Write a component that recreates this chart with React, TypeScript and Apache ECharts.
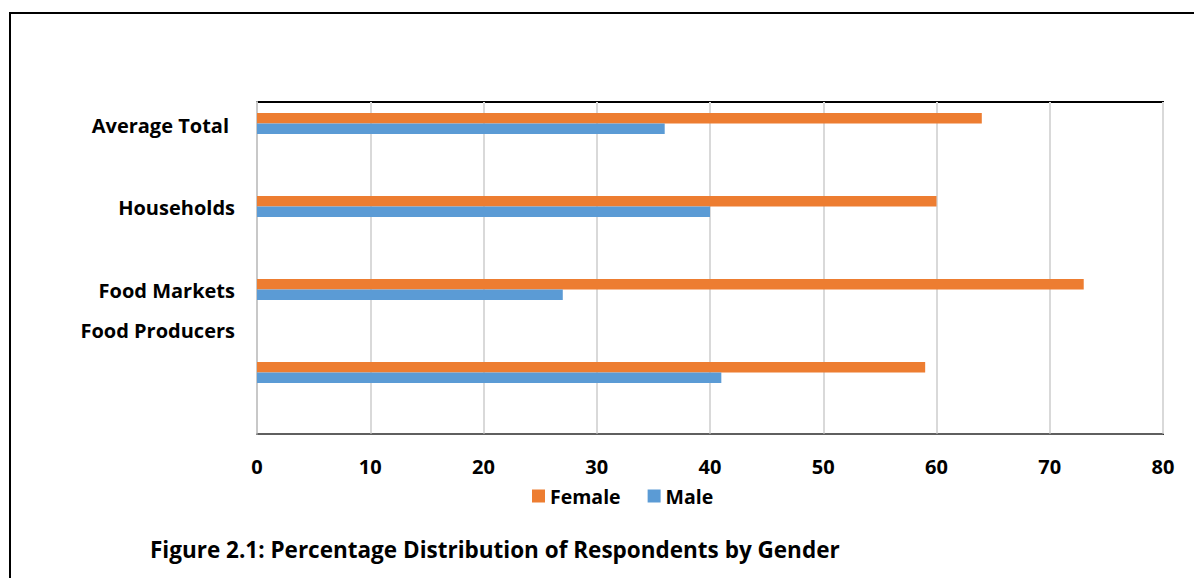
import React, { useEffect, useRef } from "react";
import * as echarts from "echarts";

const categories = ["Average Total", "Households", "Food Markets", "Food Producers"];
const femaleValues = [64, 60, 73, 59];
const maleValues = [36, 40, 27, 41];
const xTicks = [0, 10, 20, 30, 40, 50, 60, 70, 80];
const titleText = "Figure 2.1: Percentage Distribution of Respondents by Gender";

const FONT = "'Open Sans', 'Noto Sans', sans-serif";

export default function App() {
  const ref = useRef<HTMLDivElement>(null);
  useEffect(() => {
    document.body.style.margin = "0";
    const chart = echarts.init(ref.current!, null, { renderer: "svg" });
    const labelY = [125, 207, 290, 330];
    const labelX = [229, 235, 235, 235];
    chart.setOption({
      animation: false,
      backgroundColor: "#ffffff",
      textStyle: { fontFamily: FONT },
      grid: {
        left: 257,
        right: 31,
        top: 102,
        bottom: 144,
        show: true,
        borderColor: "#000000",
        borderWidth: 2,
        backgroundColor: "transparent",
      },
      legend: {
        left: 527,
        top: 481,
        itemWidth: 13,
        itemHeight: 13,
        itemGap: 27,
        icon: "rect",
        data: ["Female", "Male"],
        textStyle: { fontFamily: FONT, fontWeight: "bold", fontSize: 19.5, color: "#000" },
      },
      title: {
        text: titleText,
        left: 145,
        top: 533,
        textStyle: { fontFamily: FONT, fontWeight: "bold", fontSize: 22.5, color: "#000" },
      },
      xAxis: {
        type: "value",
        min: xTicks[0],
        max: xTicks[xTicks.length - 1],
        interval: 10,
        axisLine: { show: true, lineStyle: { color: "#7f7f7f", width: 1.5 } },
        axisTick: { show: false },
        axisLabel: {
          color: "#000",
          fontFamily: FONT,
          fontWeight: "bold",
          fontSize: 20,
          margin: 22,
        },
        splitLine: { show: true, lineStyle: { color: "#d9d9d9", width: 2 } },
      },
      yAxis: {
        type: "category",
        inverse: true,
        data: categories,
        axisLine: { show: true, lineStyle: { color: "#c8c8c8", width: 2 } },
        axisTick: { show: false },
        axisLabel: { show: false },
        splitLine: { show: false },
      },
      series: [
        {
          name: "Female",
          type: "bar",
          data: femaleValues,
          barWidth: 10.5,
          barGap: "0%",
          itemStyle: { color: "#ED7D31" },
        },
        {
          name: "Male",
          type: "bar",
          data: maleValues,
          barWidth: 10.5,
          barGap: "0%",
          itemStyle: { color: "#5B9BD5" },
        },
        {
          name: "spacer",
          type: "bar",
          data: categories.map(() => 0),
          barWidth: 40,
          barGap: "0%",
          itemStyle: { color: "transparent" },
          silent: true,
        },
      ],
      graphic: [
        {
          type: "rect",
          shape: { x: 10, y: 13, width: 1300, height: 700 },
          style: { fill: "none", stroke: "#000", lineWidth: 2 },
          silent: true,
        },
        ...categories.map((c, i) => ({
          type: "text",
          x: labelX[i],
          y: labelY[i],
          style: {
            text: c,
            fill: "#000",
            font: `bold 20px ${FONT}`,
            textAlign: "right",
            textVerticalAlign: "middle",
          },
        })),
      ],
    });
    return () => chart.dispose();
  }, []);
  return <div ref={ref} style={{ width: 1194, height: 578 }} />;
}
